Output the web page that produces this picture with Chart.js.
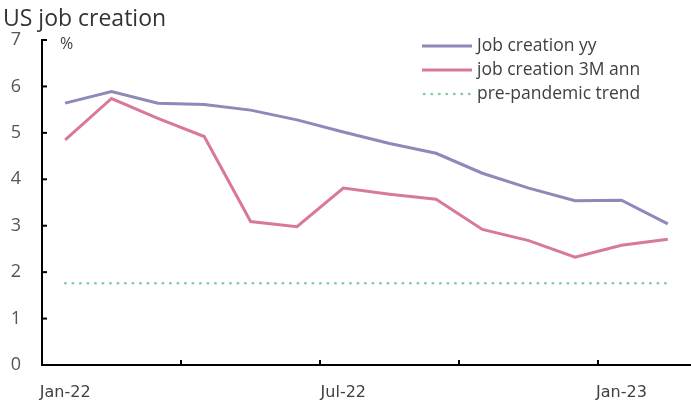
<!DOCTYPE html>
<html>
<head>
<meta charset="utf-8">
<script src="https://cdn.jsdelivr.net/npm/chart.js@4.4.1/dist/chart.umd.min.js"></script>
<style>
  html, body { margin: 0; padding: 0; background: #fff; }
  #wrap { width: 691px; height: 403px; position: relative; }
</style>
</head>
<body>
<div id="wrap"><canvas id="jobsChart" width="691" height="403"></canvas></div>
<script>
// Monthly series, Jan-22 .. Feb-23
const months = ['Jan-22', 'Feb-22', 'Mar-22', 'Apr-22', 'May-22', 'Jun-22', 'Jul-22',
                'Aug-22', 'Sep-22', 'Oct-22', 'Nov-22', 'Dec-22', 'Jan-23', 'Feb-23'];
const jobsYoy = [5.64, 5.89, 5.64, 5.61, 5.49, 5.28, 5.02, 4.77, 4.56, 4.13, 3.81, 3.54, 3.55, 3.04];
const jobs3mAnn = [4.85, 5.74, 5.31, 4.92, 3.09, 2.98, 3.81, 3.68, 3.57, 2.92, 2.68, 2.32, 2.58, 2.71];
const trendLevel = 1.76;
const trendLine = months.map(() => trendLevel);
const shownMonths = ['Jan-22', 'Jul-22', 'Jan-23'];
const yTicks = [0, 1, 2, 3, 4, 5, 6, 7];

const FONT = "'Open Sans', 'Noto Sans', sans-serif";
const AXIS_FONT = "'DejaVu Sans', Verdana, sans-serif";
const TEXT = '#404040';

// Title, unit, legend and the inward tick marks
const decorations = {
    id: 'decorations',
    afterDraw(chart) {
        const { ctx, chartArea, scales } = chart;
        ctx.save();

        ctx.fillStyle = '#333';
        ctx.font = '23px ' + FONT;
        ctx.textBaseline = 'alphabetic';
        ctx.textAlign = 'left';
        ctx.fillText('US job creation', 3, 26);

        ctx.font = '16px ' + FONT;
        ctx.fillStyle = TEXT;
        ctx.fillText('%', 60, 49);

        // inward tick marks
        ctx.strokeStyle = '#000';
        ctx.lineWidth = 2;
        yTicks.forEach(v => {
            const y = scales.y.getPixelForValue(v);
            ctx.beginPath();
            ctx.moveTo(chartArea.left, y);
            ctx.lineTo(chartArea.left + 5, y);
            ctx.stroke();
        });
        const step = scales.x.getPixelForValue(1) - scales.x.getPixelForValue(0);
        [3, 6, 9, 12].forEach(i => {
            const x = Math.round(scales.x.getPixelForValue(i) - step / 2);
            ctx.beginPath();
            ctx.moveTo(x, chartArea.bottom);
            ctx.lineTo(x, chartArea.bottom - 5);
            ctx.stroke();
        });

        // legend
        ctx.font = '17.5px ' + FONT;
        ctx.textBaseline = 'middle';
        chart.data.datasets.forEach((ds, i) => {
            const y = 46 + i * 24;
            ctx.beginPath();
            ctx.strokeStyle = ds.borderColor;
            ctx.lineWidth = ds.borderWidth;
            ctx.lineCap = ds.borderCapStyle || 'butt';
            ctx.setLineDash(ds.borderDash || []);
            ctx.moveTo(ds.borderDash ? 424 : 422, y);
            ctx.lineTo(472, y);
            ctx.stroke();
            ctx.setLineDash([]);
            ctx.fillStyle = TEXT;
            ctx.fillText(ds.label, 477, y);
        });
        ctx.restore();
    }
};

new Chart(document.getElementById('jobsChart'), {
    type: 'line',
    data: {
        labels: months,
        datasets: [{
            label: 'Job creation yy',
            data: jobsYoy,
            borderColor: '#8d89b8',
            borderWidth: 3,
            pointRadius: 0,
            tension: 0
        }, {
            label: 'job creation 3M ann',
            data: jobs3mAnn,
            borderColor: '#d9799a',
            borderWidth: 3,
            pointRadius: 0,
            tension: 0
        }, {
            label: 'pre-pandemic trend',
            data: trendLine,
            borderColor: '#86cda2',
            borderWidth: 2.5,
            borderDash: [0.5, 7],
            borderCapStyle: 'round',
            pointRadius: 0
        }]
    },
    options: {
        responsive: false,
        animation: false,
        layout: { padding: { top: 40, left: 0, right: 0, bottom: 0 } },
        plugins: {
            legend: { display: false },
            title: { display: false },
            tooltip: { enabled: false }
        },
        scales: {
            x: {
                offset: true,
                grid: { display: false, drawTicks: false },
                border: { color: '#000', width: 2 },
                afterFit(scale) { scale.height = 38; },
                ticks: {
                    autoSkip: false,
                    maxRotation: 0,
                    padding: 18,
                    color: TEXT,
                    font: { family: AXIS_FONT, size: 16 },
                    callback(value, index) {
                        const m = months[index];
                        return shownMonths.includes(m) ? m : '';
                    }
                }
            },
            y: {
                min: 0,
                max: 7,
                grid: { display: false, drawTicks: false },
                border: { color: '#000', width: 2 },
                afterFit(scale) { scale.width = 42; },
                ticks: {
                    stepSize: 1,
                    padding: 21,
                    color: '#555',
                    font: { family: FONT, size: 18 }
                }
            }
        }
    },
    plugins: [decorations]
});
</script>
</body>
</html>
